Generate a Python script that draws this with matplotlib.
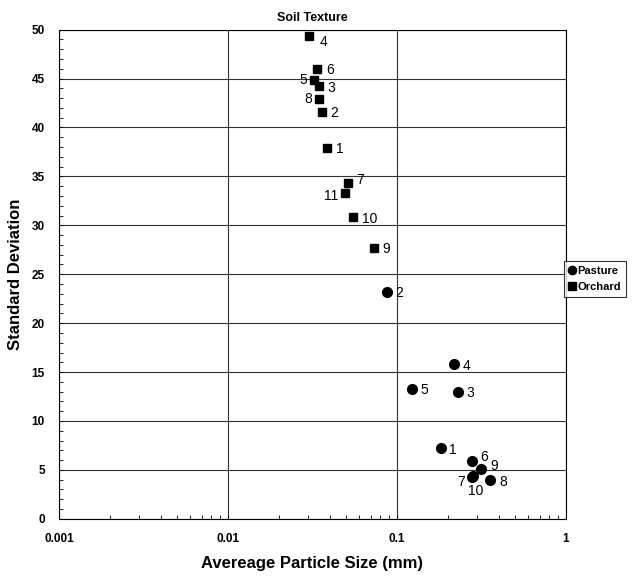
import matplotlib
matplotlib.use('Agg')
import matplotlib.pyplot as plt
from matplotlib.ticker import FixedLocator, MultipleLocator, LogLocator, NullFormatter

plt.rcParams['font.family'] = ['Liberation Sans', 'DejaVu Sans']

# 数据
pasture_ids = ["1", "2", "3", "4", "5", "6", "7", "8", "9", "10"]
pasture_size = [0.183, 0.0878, 0.231, 0.218, 0.123, 0.279, 0.278, 0.356, 0.315, 0.282]
pasture_sd = [7.2, 23.2, 13.0, 15.8, 13.3, 5.9, 4.3, 4.0, 5.1, 4.4]

orchard_ids = ["1", "2", "3", "4", "5", "6", "7", "8", "9", "10", "11"]
orchard_size = [0.0388, 0.0362, 0.0348, 0.0304, 0.0325, 0.0339, 0.0516, 0.0348, 0.0735, 0.0553, 0.0496]
orchard_sd = [37.9, 41.6, 44.2, 49.3, 44.9, 46.0, 34.3, 42.9, 27.7, 30.8, 33.3]

x_ticks = [0.001, 0.01, 0.1, 1]
x_tick_labels = ["0.001", "0.01", "0.1", "1"]

# label offsets in points (dx, dy, ha)
pasture_off = {"7": (-5, -4, 'right'), "10": (2, -11, 'center'), "9": (7, 2, 'left'),
               "6": (6, 3, 'left'), "8": (7, -2, 'left')}
orchard_off = {"5": (-5, 0, 'right'), "8": (-5, 0, 'right'), "11": (-5, -2, 'right'),
               "4": (7, -4, 'left'), "7": (6, 2, 'left')}

fig = plt.figure(figsize=(6.4, 5.81), dpi=100)
ax = fig.add_axes([0.092, 0.107, 0.792, 0.842])

ax.plot(pasture_size, pasture_sd, 'o', color='black', markersize=7, label='Pasture', zorder=3)
ax.plot(orchard_size, orchard_sd, 's', color='black', markersize=6.3, label='Orchard', zorder=3)

def put_labels(ids, xs, ys, offs):
    for i, x, y in zip(ids, xs, ys):
        dx, dy, ha = offs.get(i, (6, -1, 'left'))
        ax.annotate(i, (x, y), textcoords='offset points', xytext=(dx, dy),
                    ha=ha, va='center', fontsize=10)

put_labels(pasture_ids, pasture_size, pasture_sd, pasture_off)
put_labels(orchard_ids, orchard_size, orchard_sd, orchard_off)

ax.set_xscale('log')
ax.set_xlim(0.001, 1)
ax.set_ylim(0, 50)
ax.xaxis.set_major_locator(FixedLocator(x_ticks))
ax.set_xticklabels(x_tick_labels, fontsize=8.5, fontweight='bold')
ax.xaxis.set_minor_locator(LogLocator(base=10, subs=range(2, 10)))
ax.xaxis.set_minor_formatter(NullFormatter())
ax.yaxis.set_major_locator(MultipleLocator(5))
ax.yaxis.set_minor_locator(MultipleLocator(1))
for lab in ax.get_yticklabels():
    lab.set_fontsize(8.5)
    lab.set_fontweight('bold')

ax.tick_params(which='both', direction='in', length=3, width=0.6)
ax.tick_params(axis='x', pad=10)
ax.tick_params(axis='y', pad=10)
ax.grid(True, which='major', color='#333333', linewidth=0.8)
ax.set_axisbelow(True)
for s in ax.spines.values():
    s.set_linewidth(0.8)

ax.set_title('Soil Texture', fontsize=9, fontweight='bold', pad=6)
ax.set_xlabel('Avereage Particle Size (mm)', fontsize=12, fontweight='bold', labelpad=8)
ax.set_ylabel('Standard Deviation', fontsize=12, fontweight='bold', labelpad=6)

leg = fig.legend(loc='upper left', bbox_to_anchor=(0.881, 1 - 261 / 581),
                 prop={'weight': 'bold', 'size': 8}, frameon=True,
                 fancybox=False, edgecolor='black', handlelength=0.6,
                 handletextpad=0.2, borderpad=0.45, labelspacing=0.5,
                 borderaxespad=0.0, markerscale=0.85)
leg.get_frame().set_linewidth(0.8)

fig.savefig('out.png', dpi=100, facecolor='white')
